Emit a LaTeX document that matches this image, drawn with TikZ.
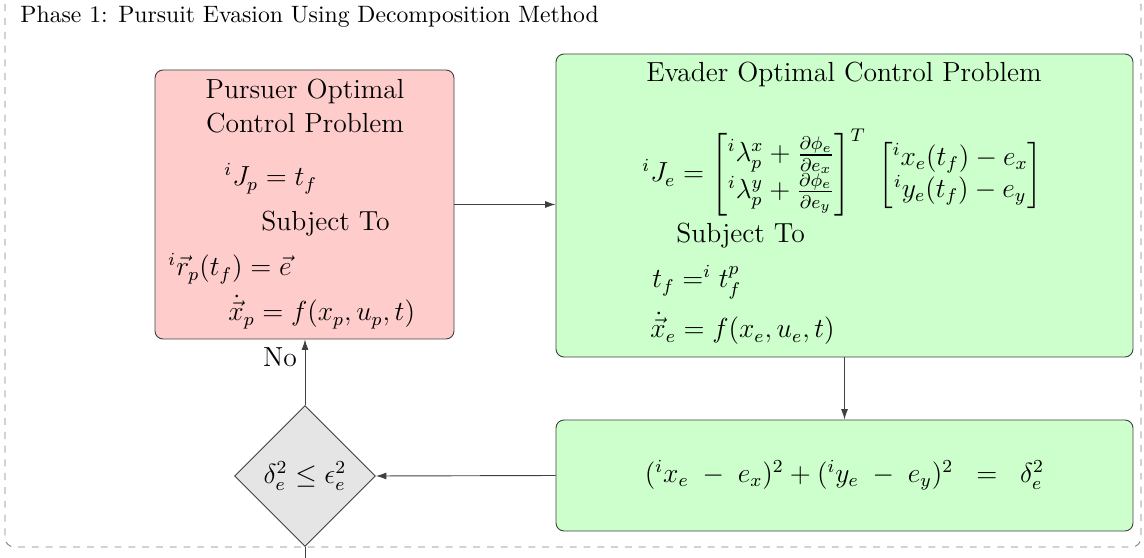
\documentclass[tikz,border=0pt]{standalone}
\usepackage{amsmath,amssymb}
\usepackage{xcolor}
\usepackage{tikz}
\usetikzlibrary{positioning,arrows.meta,calc,shapes.geometric,fit}

\begin{document}
\begin{tikzpicture}[x=0.435pt,y=-0.435pt,
  box/.style={draw=black!75, rounded corners=3.5pt, inner sep=0pt},
  txt/.style={anchor=base west, inner sep=0pt, font=\large},
  ctxt/.style={anchor=base, inner sep=0pt, font=\large},
  arr/.style={draw=black!75, -{Latex[length=4.5pt,width=3pt]}}]
\useasboundingbox (0,0) rectangle (1144,558);
% phase frame
\node[draw=gray, dashed, rounded corners=4pt, inner sep=0pt, fit={(5,-4) (1141,547)}] (phase) {};
\node[anchor=base west, inner sep=0pt, font=\fontsize{10.3}{12}\selectfont] (phaseLbl) at (20,23) {Phase 1: Pursuit Evasion Using Decomposition Method};
% boxes
\node[box, fill=red!20, fit={(155,70) (454,339)}] (pur) {};
\node[box, fill=green!20, fit={(556,54) (1133,357)}] (eva) {};
\node[box, fill=green!20, fit={(556,420) (1133,531)}] (err) {};
\node[diamond, draw=black!75, fill=gray!20, minimum width=61.3pt, minimum height=61.3pt,
  inner sep=0pt, font=\large] (chk) at (305,476) {$\delta_e^2 \le \epsilon_e^2$};
% pursuer problem
\node[ctxt] (purT1) at (305,99) {Pursuer Optimal};
\node[ctxt] (purT2) at (305,133) {Control Problem};
\node[txt] (purJ) at (224,186) {$^iJ_p = t_f$};
\node[txt] (purS) at (261,231) {Subject To};
\node[txt] (purR) at (168,276) {$^i\vec{r}_p(t_f) = \vec{e}$};
\node[txt] (purX) at (228,321) {$\dot{\vec{x}}_p = f(x_p,u_p,t)$};
% evader problem
\node[ctxt] (evaT) at (844,82) {Evader Optimal Control Problem};
\node[txt] (evaJ) at (642,182) {$^iJ_e = \begin{bmatrix} ^i\lambda_p^x + \frac{\partial\phi_e}{\partial e_x} \\ ^i\lambda_p^y + \frac{\partial\phi_e}{\partial e_y} \end{bmatrix}^T \;
  \begin{bmatrix} ^ix_e(t_f) - e_x \\ ^iy_e(t_f) - e_y \end{bmatrix}$};
\node[txt] (evaS) at (676,243) {Subject To};
\node[txt] (evaTf) at (652,288) {$t_f =^i t_f^p$};
\node[txt] (evaX) at (650,338) {$\dot{\vec{x}}_e = f(x_e,u_e,t)$};
% miss distance
\node[font=\large, inner sep=0pt] (errEq) at (err.center) {$(^ix_e\;-\;e_x)^2 + (^iy_e\;-\;e_y)^2\;\;=\;\;\delta_e^2$};
% connectors
\coordinate (exit) at (305,575);
\draw[arr] (pur.east) -- (pur.east -| eva.west);
\draw[arr] (eva.south) -- (err.north);
\draw[arr] (err.west) -- (chk.east);
\draw[arr] (chk.north) -- node[pos=0.73, left=0pt, font=\large] (no) {No} (chk.north |- pur.south);
\draw[draw=black!75] (chk.south) -- (exit);
\end{tikzpicture}
\end{document}
